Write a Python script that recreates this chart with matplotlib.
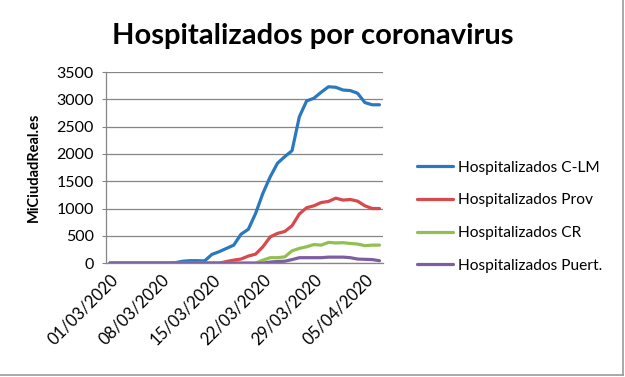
import matplotlib
matplotlib.use('Agg')
import matplotlib.pyplot as plt
import matplotlib.dates as mdates
from matplotlib.lines import Line2D
import pandas as pd

# Daily figures, 01/03/2020 .. 07/04/2020
dates = pd.date_range('2020-03-01', '2020-04-07', freq='D')
hosp_clm = [0, 0, 0, 0, 0, 0, 0, 0, 0, 10, 35, 45, 45, 40, 160, 210, 270, 330, 530,
            620, 910, 1280, 1580, 1830, 1950, 2060, 2680, 2970, 3020, 3130, 3230,
            3220, 3170, 3160, 3110, 2940, 2900, 2900]
hosp_prov = [0, 0, 0, 0, 0, 0, 0, 0, 0, 0, 0, 0, 0, 0, 0, 0, 30, 55, 75, 130, 165,
             300, 480, 545, 580, 685, 900, 1015, 1050, 1110, 1130, 1190, 1155, 1165,
             1135, 1050, 1000, 1000]
hosp_cr = [0, 0, 0, 0, 0, 0, 0, 0, 0, 0, 0, 0, 0, 0, 0, 0, 0, 0, 0, 0, 0, 55, 100,
           100, 115, 225, 270, 300, 340, 330, 380, 370, 375, 360, 350, 320, 330, 330]
hosp_puert = [0, 0, 0, 0, 0, 0, 0, 0, 0, 0, 0, 0, 0, 0, 0, 0, 0, 0, 0, 0, 0, 0, 20,
              30, 35, 65, 100, 100, 100, 100, 110, 110, 110, 100, 75, 70, 65, 45]

series = [
    ('Hospitalizados C-LM', hosp_clm, '#2a78bd'),
    ('Hospitalizados Prov', hosp_prov, '#d9484a'),
    ('Hospitalizados CR', hosp_cr, '#92c050'),
    ('Hospitalizados Puert.', hosp_puert, '#7e5ea2'),
]

plt.rcParams['font.family'] = ['Lato', 'DejaVu Sans']

fig = plt.figure(figsize=(6.25, 3.77), dpi=100)
ax = fig.add_axes([0.170, 0.302, 0.443, 0.507])

for name, values, color in series:
    ax.plot(dates, values, color=color, linewidth=2.3, label=name,
            solid_capstyle='round', solid_joinstyle='round')

ax.set_ylim(0, 3500)
ax.set_yticks(range(0, 3501, 500))
ax.set_xlim(dates[0] - pd.Timedelta(hours=12), dates[-1] + pd.Timedelta(hours=12))
ax.set_xticks(dates[::7])
ax.xaxis.set_major_formatter(mdates.DateFormatter('%d/%m/%Y'))
plt.setp(ax.get_xticklabels(), rotation=45, ha='right', rotation_mode='anchor')

grey = '#868686'
ax.grid(axis='y', color=grey, linewidth=0.9)
ax.set_axisbelow(True)
for side in ['top', 'right']:
    ax.spines[side].set_visible(False)
for side in ['left', 'bottom']:
    ax.spines[side].set_color(grey)
    ax.spines[side].set_linewidth(0.9)
ax.tick_params(axis='y', length=3, color=grey, labelsize=11.5, pad=6)
ax.tick_params(axis='x', length=0, labelsize=12, pad=6)

ax.set_ylabel('MiCiudadReal.es', fontsize=10.5, fontweight='bold', labelpad=11)
fig.suptitle('Hospitalizados por coronavirus', x=0.5, y=0.94, fontsize=21,
             fontweight='bold')

fig.legend(loc='center left', bbox_to_anchor=(0.645, 0.425), frameon=False,
           fontsize=11.2, handlelength=2.3, labelspacing=1.2, handletextpad=0.3)

# sheet border lines on right and bottom
fig.add_artist(Line2D([0.996, 0.996], [0.006, 1.0], color='#9a9a9a', linewidth=1.2))
fig.add_artist(Line2D([0.0, 0.996], [0.006, 0.006], color='#9a9a9a', linewidth=1.2))

fig.savefig('out.png', dpi=100)
